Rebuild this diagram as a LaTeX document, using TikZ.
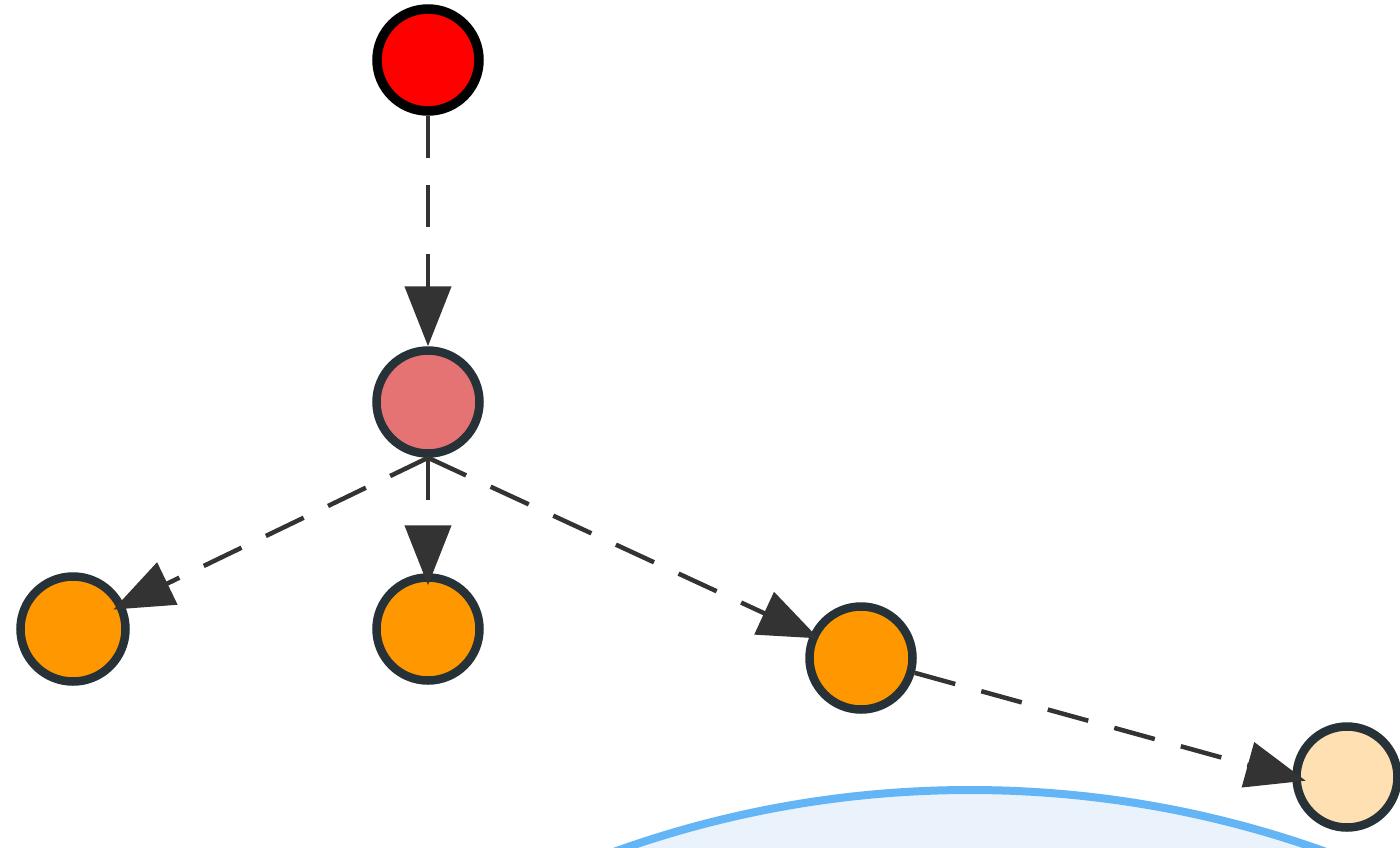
\documentclass[tikz,border=0pt]{standalone}
\usetikzlibrary{arrows.meta,calc}
\definecolor{edgec}{HTML}{333333}
\definecolor{bordc}{HTML}{263238}
\definecolor{rootred}{HTML}{FF0000}
\definecolor{pinkc}{HTML}{E57373}
\definecolor{orangec}{HTML}{FF9800}
\definecolor{peachc}{HTML}{FFE0B2}
\definecolor{bluestroke}{HTML}{64B5F6}
\definecolor{bluefill}{HTML}{EAF3FC}
\tikzset{
  vnode/.style={circle, draw=bordc, line width=8.5pt, inner sep=0pt, minimum size=103pt},
  link/.style={draw=edgec, line width=4.5pt, dash pattern=on 42pt off 27pt,
    -{Triangle[length=60pt,width=46pt]}},
}
\begin{document}
\begin{tikzpicture}[x=1pt,y=-1pt]
\useasboundingbox (0,0) rectangle (1400,847);
\clip (0,0) rectangle (1400,847);
\fill[white] (0,0) rectangle (1400,847);
% large background region
\draw[draw=bluestroke, fill=bluefill, line width=8pt] (970,1840) circle[radius=1050];
% nodes
\node[vnode, draw=black, line width=9.5pt, minimum size=102pt, fill=rootred] (root) at (428,60) {};
\node[vnode, fill=pinkc] (mid) at (428,402) {};
\node[vnode, fill=orangec, minimum size=105pt] (ol) at (73,629) {};
\node[vnode, fill=orangec] (om) at (428,629) {};
\node[vnode, fill=orangec] (or) at (861,658) {};
\node[vnode, fill=peachc, minimum size=101pt] (peach) at (1347,777) {};
% connectors
\draw[link] (root) -- (mid);
\draw[link, shorten >=-12pt] (mid.south) -- (ol);
\draw[link, shorten >=-12pt] (mid.south) -- (om);
\draw[link, shorten >=-9pt] (mid.south) -- (or);
\draw[link, shorten >=-14pt] (or) -- (peach.west);
\end{tikzpicture}
\end{document}
